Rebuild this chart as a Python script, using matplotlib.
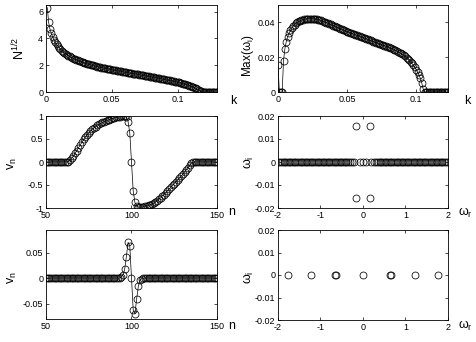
import numpy as np
import matplotlib.pyplot as plt
from matplotlib.ticker import FormatStrFormatter

plt.rcParams['font.family'] = 'Liberation Sans'
plt.rcParams['mathtext.fontset'] = 'custom'
plt.rcParams['mathtext.rm'] = 'Liberation Sans'
plt.rcParams['mathtext.it'] = 'Liberation Sans'
plt.rcParams['axes.unicode_minus'] = False

# ---- top left: N^{1/2} vs k  (k = 0.001 ... 0.130)
k_left = np.arange(1, 131) / 1000
sqrtN = [6.30, 5.20, 4.70, 4.40, 4.12, 3.90, 3.72, 3.56, 3.42, 3.30,
         3.19, 3.09, 3.00, 2.92, 2.85, 2.78, 2.72, 2.66, 2.60, 2.55,
         2.50, 2.45, 2.41, 2.37, 2.33, 2.29, 2.25, 2.22, 2.18, 2.15,
         2.12, 2.09, 2.06, 2.03, 2.00, 1.98, 1.95, 1.93, 1.90, 1.88,
         1.86, 1.83, 1.81, 1.79, 1.77, 1.75, 1.73, 1.71, 1.69, 1.67,
         1.65, 1.63, 1.61, 1.59, 1.57, 1.55, 1.54, 1.52, 1.50, 1.48,
         1.46, 1.45, 1.43, 1.41, 1.39, 1.38, 1.36, 1.34, 1.32, 1.31,
         1.29, 1.27, 1.25, 1.24, 1.22, 1.20, 1.18, 1.17, 1.15, 1.13,
         1.11, 1.09, 1.08, 1.06, 1.04, 1.02, 1.00, 0.98, 0.96, 0.94,
         0.92, 0.90, 0.88, 0.86, 0.84, 0.82, 0.80, 0.78, 0.76, 0.73,
         0.71, 0.68, 0.66, 0.63, 0.60, 0.57, 0.54, 0.51, 0.48, 0.44,
         0.40, 0.36, 0.32, 0.27, 0.22, 0.16, 0.10, 0.04, 0.00, 0.00,
         0, 0, 0, 0, 0, 0, 0, 0, 0, 0]

# ---- top right: max growth rate vs k  (k = 0.000 ... 0.123)
k_right = np.arange(0, 124) / 1000
max_wi = [0.0154, 0, 0, 0, 0.0180, 0.0250, 0.0290, 0.0318, 0.0338, 0.0354,
          0.0367, 0.0378, 0.0387, 0.0395, 0.0401, 0.0406, 0.0410, 0.0413, 0.0416, 0.0418,
          0.0419, 0.0420, 0.0421, 0.0421, 0.0421, 0.0421, 0.0420, 0.0419, 0.0418, 0.0416,
          0.0414, 0.0411, 0.0408, 0.0405, 0.0402, 0.0399, 0.0396, 0.0392, 0.0389, 0.0385,
          0.0382, 0.0378, 0.0375, 0.0371, 0.0368, 0.0364, 0.0361, 0.0357, 0.0354, 0.0350,
          0.0347, 0.0344, 0.0341, 0.0338, 0.0335, 0.0332, 0.0329, 0.0326, 0.0323, 0.0320,
          0.0317, 0.0314, 0.0311, 0.0308, 0.0305, 0.0302, 0.0299, 0.0296, 0.0293, 0.0290,
          0.0287, 0.0284, 0.0281, 0.0278, 0.0275, 0.0272, 0.0269, 0.0266, 0.0263, 0.0260,
          0.0257, 0.0254, 0.0251, 0.0247, 0.0244, 0.0240, 0.0236, 0.0232, 0.0227, 0.0222,
          0.0217, 0.0211, 0.0205, 0.0198, 0.0191, 0.0183, 0.0174, 0.0164, 0.0153, 0.0141,
          0.0128, 0.0114, 0.0098, 0.0078, 0.0052, 0.0018, 0, 0, 0, 0,
          0, 0, 0, 0, 0, 0, 0, 0, 0, 0,
          0, 0, 0, 0]

# ---- profiles v_n, n = 50 ... 150
n = np.arange(50, 151)
v_mid = ([0.0] * 13 +
         [0.01, 0.04, 0.08, 0.13, 0.19, 0.25, 0.31, 0.37, 0.43, 0.49,
          0.54, 0.59, 0.63, 0.67, 0.71, 0.74, 0.77, 0.80, 0.82, 0.84,
          0.86, 0.88, 0.90, 0.91, 0.92, 0.94, 0.95, 0.96, 0.97, 0.98,
          0.98, 0.99, 0.99, 0.99, 0.97, 0.88, 0.63] +
         [0.0] +
         [-0.63, -0.88, -0.96, -0.98, -0.98, -0.98, -0.97, -0.96, -0.95, -0.94,
          -0.93, -0.91, -0.89, -0.86, -0.84, -0.81, -0.78, -0.74, -0.71, -0.67,
          -0.63, -0.59, -0.55, -0.51, -0.47, -0.43, -0.39, -0.35, -0.31, -0.27,
          -0.22, -0.17, -0.12, -0.07, -0.03, -0.01] +
         [0.0] * 14)
v_bot = ([0.0] * 44 +
         [0.002, 0.006, 0.017, 0.042, 0.070, 0.063, 0.0,
          -0.063, -0.070, -0.041, -0.016, -0.004, -0.001] +
         [0.0] * 44)

# ---- spectra
wr_mid = [-1.99, -1.95, -1.91, -1.87, -1.83, -1.79, -1.75, -1.71, -1.67, -1.63,
          -1.59, -1.55, -1.51, -1.47, -1.43, -1.39, -1.35, -1.31, -1.27, -1.23,
          -1.19, -1.15, -1.11, -1.07, -1.03, -0.99, -0.95, -0.91, -0.87, -0.83,
          -0.79, -0.75, -0.71, -0.67, -0.63, -0.59, -0.55, -0.51, -0.47, -0.43,
          -0.39, -0.35, -0.31, -0.27, -0.20, -0.07, 0.0,
          0.07, 0.20, 0.27, 0.31, 0.35, 0.39, 0.43, 0.47, 0.51, 0.55,
          0.59, 0.63, 0.67, 0.71, 0.75, 0.79, 0.83, 0.87, 0.91, 0.95,
          0.99, 1.03, 1.07, 1.11, 1.15, 1.19, 1.23, 1.27, 1.31, 1.35,
          1.39, 1.43, 1.47, 1.51, 1.55, 1.59, 1.63, 1.67, 1.71, 1.75,
          1.79, 1.83, 1.87, 1.91, 1.95, 1.99]
wi_mid = [0.0] * len(wr_mid)
wr_unst = [-0.16, 0.16, -0.16, 0.16]
wi_unst = [0.0157, 0.0157, -0.0157, -0.0157]

wr_bot = [-1.76, -1.22, -0.66, -0.63, 0.0, 0.63, 0.66, 1.22, 1.76]
wi_bot = [0.0] * len(wr_bot)

W, H = 477, 342
fig = plt.figure(figsize=(W / 100, H / 100), dpi=100)


def box(l, t, r, b):
    return [l / W, 1 - b / H, (r - l) / W, (b - t) / H]


def style(ax, xlim, ylim, xt, yt):
    ax.set_xlim(xlim)
    ax.set_ylim(ylim)
    ax.set_xticks(xt)
    ax.set_yticks(yt)
    ax.xaxis.set_major_formatter(FormatStrFormatter('%g'))
    ax.yaxis.set_major_formatter(FormatStrFormatter('%g'))
    ax.tick_params(direction='in', top=True, right=True, length=2.5,
                   width=0.5, labelsize=6.5, pad=2)
    for s in ax.spines.values():
        s.set_linewidth(0.6)


mk = dict(marker='o', mfc='none', mec='k', ms=5, mew=0.55)
ln = dict(color='k', lw=0.5)

ax1 = fig.add_axes(box(46, 5, 217, 92))
ax1.plot(k_left, sqrtN, **ln, **mk)
style(ax1, (0, 0.13), (0, 6.5), [0, 0.05, 0.1], [0, 2, 4, 6])
ax1.set_ylabel(r'N$^{1/2}$', fontsize=9, va='center')
ax1.yaxis.set_label_coords(-0.155, 0.5)

ax2 = fig.add_axes(box(278, 5, 448, 92))
ax2.plot(k_right, max_wi, **ln, **mk)
style(ax2, (0, 0.123), (0, 0.05), [0, 0.05, 0.1], [0, 0.02, 0.04])
ax2.set_ylabel(r'Max($\omega_{\rm i}$)', fontsize=8.5, va='center')
ax2.yaxis.set_label_coords(-0.175, 0.42)

ax3 = fig.add_axes(box(46, 116, 217, 208))
ax3.plot(n, v_mid, **ln, **mk)
style(ax3, (50, 150), (-1, 1), [50, 100, 150], [-1, -0.5, 0, 0.5, 1])
ax3.set_ylabel(r'v$_{\rm n}$', fontsize=9, va='center')
ax3.yaxis.set_label_coords(-0.195, 0.48)

ax4 = fig.add_axes(box(278, 116, 448, 208))
ax4.plot(wr_mid, wi_mid, ls='none', **mk)
ax4.plot(wr_unst, wi_unst, ls='none', **mk)
style(ax4, (-2, 2), (-0.02, 0.02), [-2, -1, 0, 1, 2],
      [-0.02, -0.01, 0, 0.01, 0.02])
ax4.set_ylabel(r'$\omega_{\rm i}$', fontsize=9, va='center')
ax4.yaxis.set_label_coords(-0.17, 0.5)

ax5 = fig.add_axes(box(46, 230, 217, 319))
ax5.plot(n, v_bot, **ln, **mk)
style(ax5, (50, 150), (-0.08, 0.094), [50, 100, 150], [-0.05, 0, 0.05])
ax5.set_ylabel(r'v$_{\rm n}$', fontsize=9, va='center')
ax5.yaxis.set_label_coords(-0.195, 0.47)

ax6 = fig.add_axes(box(278, 230, 448, 320))
ax6.plot(wr_bot, wi_bot, ls='none', **mk)
style(ax6, (-2, 2), (-0.02, 0.02), [-2, -1, 0, 1, 2],
      [-0.02, -0.01, 0, 0.01, 0.02])
ax6.set_ylabel(r'$\omega_{\rm i}$', fontsize=9, va='center')
ax6.yaxis.set_label_coords(-0.17, 0.47)

# x labels sit to the right of each panel, as in the original
for x, y, s in [(233, 101, 'k'), (467, 101, 'k'),
                (232, 212, 'n'), (465, 213, r'$\omega_{\rm r}$'),
                (232, 326, 'n'), (465, 326, r'$\omega_{\rm r}$')]:
    fig.text(x / W, 1 - y / H, s, fontsize=9, ha='center', va='center')

fig.savefig('out.png', dpi=100)
